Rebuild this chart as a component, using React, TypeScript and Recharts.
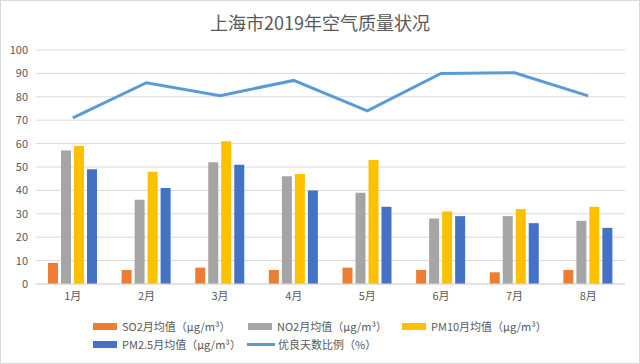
import React from 'react';
import { ComposedChart, Bar, Line, XAxis, YAxis, CartesianGrid } from 'recharts';

// values
const months = ['1月', '2月', '3月', '4月', '5月', '6月', '7月', '8月'];
const so2 = [9, 6, 7, 6, 7, 6, 5, 6];
const no2 = [57, 36, 52, 46, 39, 28, 29, 27];
const pm10 = [59, 48, 61, 47, 53, 31, 32, 33];
const pm25 = [49, 41, 51, 40, 33, 29, 26, 24];
const goodDays = [71, 86, 80.5, 87, 74, 90, 90.3, 80.4];
const yTicks = [0, 10, 20, 30, 40, 50, 60, 70, 80, 90, 100];

const series = [
    { key: 'so2', name: 'SO2月均值（μg/m³）', color: '#ED7D31', type: 'bar' },
    { key: 'no2', name: 'NO2月均值（μg/m³）', color: '#A5A5A5', type: 'bar' },
    { key: 'pm10', name: 'PM10月均值（μg/m³）', color: '#FFC000', type: 'bar' },
    { key: 'pm25', name: 'PM2.5月均值（μg/m³）', color: '#4472C4', type: 'bar' },
    { key: 'good', name: '优良天数比例（%）', color: '#5B9BD5', type: 'line' },
];

const data = months.map((m, i) => ({
    month: m,
    so2: so2[i],
    no2: no2[i],
    pm10: pm10[i],
    pm25: pm25[i],
    good: goodDays[i],
}));

const FONT = '"Noto Sans CJK SC", "Noto Sans", sans-serif';
const TEXT = '#595959';

function LegendItem({ s, left, top }: { s: typeof series[number]; left: number; top: number }) {
    return (
        <div style={{ position: 'absolute', left, top, display: 'flex', alignItems: 'center', height: 16 }}>
            {s.type === 'bar' ? (
                <div style={{ width: 24, height: 7, background: s.color }} />
            ) : (
                <div style={{ width: 28, height: 3, background: s.color }} />
            )}
            <span style={{ marginLeft: s.type === 'bar' ? 5 : 3, fontSize: 11, color: TEXT, whiteSpace: 'nowrap' }}>{s.name}</span>
        </div>
    );
}

export default function App() {
    return (
        <div style={{ position: 'fixed', left: 0, top: 0, width: 640, height: 364, background: '#fff', fontFamily: FONT }}>
            <div style={{ position: 'absolute', left: 0, top: 9, width: 640, textAlign: 'center', fontSize: 18, color: TEXT }}>
                上海市2019年空气质量状况
            </div>
            <ComposedChart
                width={640}
                height={364}
                data={data}
                margin={{ top: 50, right: 15, left: 0, bottom: 50 }}
                barGap={3}
                barCategoryGap={12}
            >
                <CartesianGrid vertical={false} stroke="#D9D9D9" />
                <XAxis
                    dataKey="month"
                    height={30}
                    axisLine={{ stroke: '#D9D9D9' }}
                    tickLine={false}
                    tick={{ fontSize: 11, fill: TEXT, fontFamily: FONT }}
                />
                <YAxis
                    width={36}
                    domain={[0, 100]}
                    ticks={yTicks}
                    axisLine={false}
                    tickLine={false}
                    interval={0}
                    tick={{ fontSize: 11, fill: TEXT, fontFamily: FONT }}
                />
                {series.filter(s => s.type === 'bar').map(s => (
                    <Bar key={s.key} dataKey={s.key} name={s.name} fill={s.color} barSize={10} isAnimationActive={false} />
                ))}
                <Line
                    dataKey="good"
                    name={series[4].name}
                    stroke={series[4].color}
                    strokeWidth={3}
                    dot={false}
                    isAnimationActive={false}
                />
            </ComposedChart>
            <LegendItem s={series[0]} left={93} top={318} />
            <LegendItem s={series[1]} left={248} top={318} />
            <LegendItem s={series[2]} left={402} top={318} />
            <LegendItem s={series[3]} left={93} top={336} />
            <LegendItem s={series[4]} left={247} top={336} />
            <div style={{ position: 'absolute', inset: 0, border: '1px solid #D9D9D9', pointerEvents: 'none' }} />
        </div>
    );
}
